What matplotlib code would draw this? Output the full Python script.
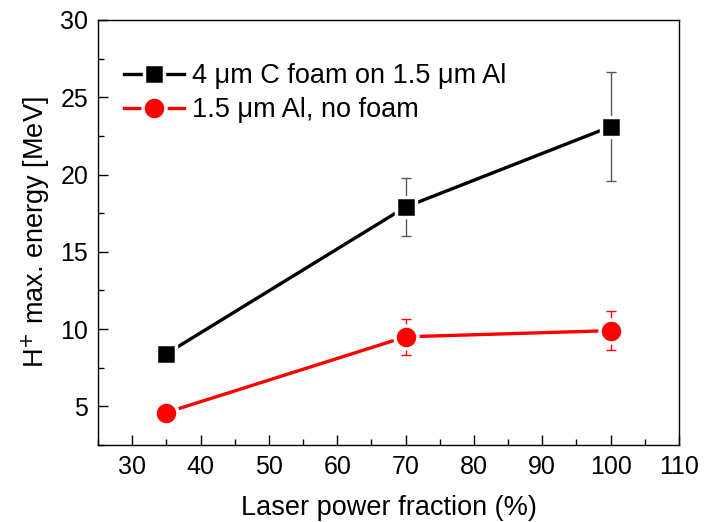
import matplotlib
matplotlib.use("Agg")
import matplotlib.pyplot as plt
from matplotlib.ticker import MultipleLocator

plt.rcParams['font.family'] = ['Liberation Sans', 'DejaVu Sans']

x = [35, 70, 100]
foam = [8.4, 17.9, 23.1]
foam_err = [0.0, 1.85, 3.55]
nofoam = [4.6, 9.5, 9.9]
nofoam_err = [0.0, 1.15, 1.25]
xticks = [30, 40, 50, 60, 70, 80, 90, 100, 110]
yticks = [5, 10, 15, 20, 25, 30]

fig = plt.figure(figsize=(7.07, 5.22), dpi=100)
ax = fig.add_axes([0.1386, 0.1475, 0.8218, 0.8142])

ax.errorbar(x, foam, yerr=foam_err, fmt='none', ecolor='#555555', elinewidth=1, capsize=3.5, capthick=1, zorder=2)
ax.errorbar(x, nofoam, yerr=nofoam_err, fmt='none', ecolor='red', elinewidth=1, capsize=3.5, capthick=1, zorder=2)
ax.plot(x, foam, color='black', lw=2.4, marker='s', ms=14, mfc='black', mec='white', mew=2.5,
        label='4 μm C foam on 1.5 μm Al', zorder=3)
ax.plot(x, nofoam, color='red', lw=2.4, marker='o', ms=16.5, mfc='red', mec='white', mew=2.5,
        label='1.5 μm Al, no foam', zorder=3)

ax.set_xlim(25, 110)
ax.set_ylim(2.5, 30)
ax.set_xticks(xticks)
ax.set_yticks(yticks)
ax.xaxis.set_minor_locator(MultipleLocator(5))
ax.yaxis.set_minor_locator(MultipleLocator(2.5))
ax.tick_params(which='both', direction='in', top=False, right=False, labelsize=18, width=1)
ax.tick_params(which='major', length=7)
ax.tick_params(which='minor', length=4)
ax.tick_params(axis='x', pad=7)
ax.tick_params(axis='y', pad=7)
for s in ax.spines.values():
    s.set_linewidth(1)

ax.set_xlabel('Laser power fraction (%)', fontsize=19.5, labelpad=12)
ax.set_ylabel('H$^{+}$ max. energy [MeV]', fontsize=19.5, labelpad=6)

ax.legend(loc='upper left', bbox_to_anchor=(0.045, 0.898), frameon=False, fontsize=19.5,
          handlelength=2.2, handletextpad=0.3, labelspacing=0.3, borderaxespad=0.0, borderpad=0.0)

fig.savefig('out.png', dpi=100)
